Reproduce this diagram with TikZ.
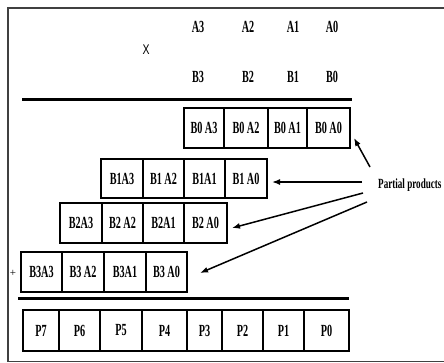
\documentclass[tikz,border=0pt]{standalone}
\usepackage{fontspec}
\setmainfont{Liberation Serif}
\newfontfamily\sansx{Liberation Sans}
\usetikzlibrary{arrows.meta}
% horizontally condensed text
\newcommand{\cnd}[1]{\scalebox{0.6}[1]{#1}}
\begin{document}
\begin{tikzpicture}[x=1pt,y=-1pt,
  cell/.style={draw, line width=1.4pt, inner sep=0pt, outer sep=0pt,
    font=\fontsize{17}{17}\selectfont\bfseries},
  lbl/.style={inner sep=0pt, font=\fontsize{17}{17}\selectfont\bfseries},
  rule/.style={line width=3pt},
  ptr/.style={line width=1.5pt, -{Latex[length=8pt,width=6pt]}},
  frame/.style={line width=1.2pt, draw=black!75}]
\useasboundingbox (0,0) rectangle (444,362);
\draw[frame] (444,8) -- (8,8) -- (8,361.5) -- (444,361.5);

% operands
\foreach \n/\x/\t in {a3/198/A3, a2/248/A2, a1/293/A1, a0/332/A0}
  \node[lbl] (\n) at (\x,27) {\cnd{\t}};
\foreach \n/\x/\t in {b3/198/B3, b2/248/B2, b1/293/B1, b0/332/B0}
  \node[lbl] (\n) at (\x,77) {\cnd{\t}};
\node[inner sep=0pt, font=\fontsize{14}{14}\selectfont\sansx] (times) at (146,50) {\scalebox{0.75}[1]{X}};

\draw[rule] (22,99) -- (352,99);

% partial product rows
\foreach \n/\a/\b/\t in {r0c0/184/224/B0 A3, r0c1/224/268/B0 A2, r0c2/268/307/B0 A1, r0c3/307/350/B0 A0}
  \node[cell, minimum width={\b-\a}, minimum height=40] (\n) at ({(\a+\b)/2},128) {\cnd{\t}};
\foreach \n/\a/\b/\t in {r1c0/101/143/B1A3, r1c1/143/184/B1 A2, r1c2/184/225/B1A1, r1c3/225/267/B1 A0}
  \node[cell, minimum width={\b-\a}, minimum height=39] (\n) at ({(\a+\b)/2},178.5) {\cnd{\t}};
\foreach \n/\a/\b/\t in {r2c0/60/102/B2A3, r2c1/102/143/B2 A2, r2c2/143/184/B2A1, r2c3/184/227/B2 A0}
  \node[cell, minimum width={\b-\a}, minimum height=40] (\n) at ({(\a+\b)/2},223) {\cnd{\t}};
\foreach \n/\a/\b/\t in {r3c0/21/62/B3A3, r3c1/62/104/B3 A2, r3c2/104/146/B3A1, r3c3/146/187/B3 A0}
  \node[cell, minimum width={\b-\a}, minimum height=40] (\n) at ({(\a+\b)/2},272) {\cnd{\t}};
\node[inner sep=0pt, font=\fontsize{11}{11}\selectfont] (plus) at (13,273) {+};

\draw[rule] (18,298) -- (349,298);

% product bits
\foreach \n/\a/\b/\t in {p7/23/59/P7, p6/59/100/P6, p5/100/142/P5, p4/142/187/P4,
                         p3/187/222/P3, p2/222/263/P2, p1/263/304/P1, p0/304/349/P0}
  \node[cell, minimum width={\b-\a}, minimum height=41] (\n) at ({(\a+\b)/2},330.5) {\cnd{\t}};

% label and pointers
\node[anchor=base west, inner sep=0pt, font=\fontsize{14}{14}\selectfont\bfseries] (pp) at (378,188)
  {\scalebox{0.65}[1]{Partial products}};
\coordinate (s0) at (370,167);
\coordinate (s1) at (362,182);
\coordinate (s2) at (363,193);
\coordinate (s3) at (367,202);
\coordinate (t0) at ([shift={(4,-10)}]r0c3.south east);
\coordinate (t1) at ([shift={(5,3.5)}]r1c3.east);
\coordinate (t2) at ([shift={(5,5)}]r2c3.east);
\coordinate (t3) at ([shift={(13,1)}]r3c3.east);
\draw[ptr] (s0) -- (t0);
\draw[ptr] (s1) -- (t1);
\draw[ptr] (s2) -- (t2);
\draw[ptr] (s3) -- (t3);
\end{tikzpicture}
\end{document}
